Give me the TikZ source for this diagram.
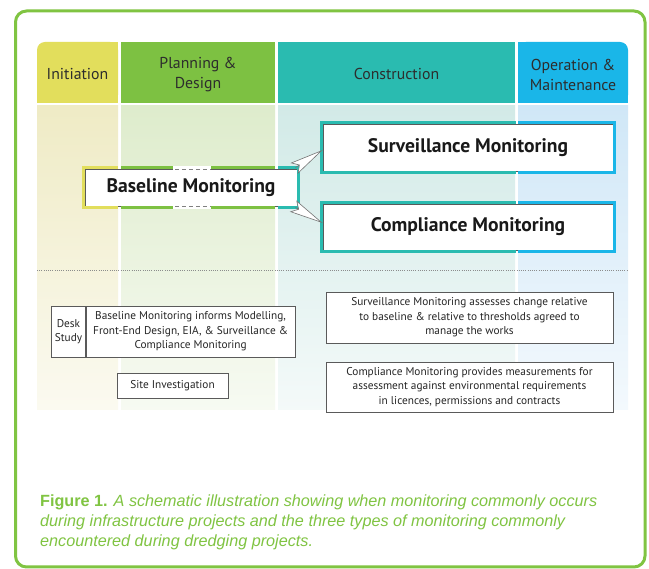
\documentclass[tikz,border=0pt]{standalone}
\usepackage{fontspec}
\setmainfont{PT Sans}
\newfontfamily\capfont{Liberation Sans}
\usetikzlibrary{arrows.meta,calc}
\definecolor{frameg}{RGB}{128,196,66}
\definecolor{cinit}{RGB}{226,222,92}
\definecolor{cplan}{RGB}{125,193,66}
\definecolor{ccons}{RGB}{42,187,176}
\definecolor{cops}{RGB}{26,182,232}
\definecolor{pinit}{RGB}{239,235,197}
\definecolor{pplan}{RGB}{222,236,204}
\definecolor{pcons}{RGB}{210,234,231}
\definecolor{pops}{RGB}{208,231,247}
\definecolor{htext}{RGB}{45,45,45}
\definecolor{bordg}{RGB}{90,90,90}
\tikzset{
  hdr/.style={text=htext, font=\fontsize{15.8}{20}\selectfont, align=center},
  bigbox/.style={draw=bordg, line width=0.8pt, fill=white, font=\bfseries\fontsize{19.6}{22}\selectfont, text=black!90, inner sep=0pt},
  smallbox/.style={draw=bordg, line width=0.6pt, fill=white, font=\fontsize{11.3}{14.5}\selectfont, text=black!85, align=center, inner sep=0pt},
  wedge/.style={draw=black!55, line width=0.6pt, -{Stealth[open, fill=white, length=34pt, width=13pt, inset=6pt]}},
  edge3/.style={line width=3pt}
}
\begin{document}
\begin{tikzpicture}[x=1pt,y=-1pt]
\useasboundingbox (0,0) rectangle (649,569);
\fill[white] (0,0) rectangle (649,569);
% frame
\draw[frameg, line width=3pt, rounded corners=11pt] (15.5,11) rectangle (645,567);
% pale columns
\shade[top color=pinit, bottom color=pinit!25!white] (37,106) rectangle (118,410);
\shade[top color=pplan, bottom color=pplan!25!white] (121,106) rectangle (275,410);
\shade[top color=pcons, bottom color=pcons!25!white] (278,106) rectangle (515,410);
\shade[top color=pops, bottom color=pops!25!white] (518,106) rectangle (628,410);
% headers
\fill[cinit, rounded corners=8pt] (37,42) rectangle (118,103);
\fill[cinit] (60,42) rectangle (118,103);
\fill[cinit] (37,70) rectangle (118,103);
\fill[cplan] (121,42) rectangle (275,103);
\fill[ccons] (278,42) rectangle (515,103);
\fill[cops, rounded corners=8pt] (518,42) rectangle (628,103);
\fill[cops] (518,42) rectangle (600,103);
\fill[cops] (518,70) rectangle (628,103);
\node[hdr] (init) at (77.5,74) {Initiation};
\node[hdr] (plan) at (198,74.5) {Planning \&\\Design};
\node[hdr] (cons) at (396.5,74) {Construction};
\node[hdr] (ops) at (573,74.5) {Operation \&\\Maintenance};
% dotted separator
\draw[black!45, line width=0.7pt, dash pattern=on 1pt off 1.2pt] (37,270) -- (628,270);
% baseline box
\node[bigbox, minimum width=212pt, minimum height=37pt] (bm) at (191,187.5) {Baseline Monitoring};
\foreach \ya in {167.5,207.5}{
  \draw[cinit, edge3] (83.5,\ya) -- (118,\ya);
  \draw[cplan, edge3] (121,\ya) -- (173,\ya);
  \draw[cplan, edge3] (211,\ya) -- (275,\ya);
  \draw[ccons, edge3] (278,\ya) -- (298.5,\ya);
}
\draw[cinit, edge3] (83.5,166) -- (83.5,209);
\draw[ccons, edge3] (298.5,166) -- (298.5,209);
\fill[white] (173,166) rectangle (211,170);
\fill[white] (173,205) rectangle (211,209);
\draw[black!50, line width=0.8pt, dash pattern=on 4pt off 3pt] (175,169) -- (211,169);
\draw[black!50, line width=0.8pt, dash pattern=on 4pt off 3pt] (175,206) -- (211,206);
% surveillance & compliance boxes
\node[bigbox, minimum width=290pt, minimum height=47pt] (sm) at (468,147.5) {Surveillance Monitoring};
\node[bigbox, minimum width=290pt, minimum height=46pt] (cm) at (468,227) {Compliance Monitoring};
\foreach \ya/\yb in {124/171,204/250}{
  \draw[ccons, edge3] (321.5,\ya-1.5) -- (516,\ya-1.5);
  \draw[cops, edge3] (518,\ya-1.5) -- (614.5,\ya-1.5);
  \draw[ccons, edge3] (321.5,\yb+1.5) -- (516,\yb+1.5);
  \draw[cops, edge3] (518,\yb+1.5) -- (614.5,\yb+1.5);
  \draw[ccons, edge3] (321.5,\ya-3) -- (321.5,\yb+3);
  \draw[cops, edge3] (614.5,\ya-3) -- (614.5,\yb+3);
}
% wedge arrows
\draw[wedge] ($(bm.north east)+(-2,-1)$) -- ($(sm.west)+(0,2.5)$);
\draw[wedge] ($(bm.south east)+(-2,1)$) -- ($(cm.west)+(0,-4)$);
% lower boxes
\node[smallbox, minimum width=34pt, minimum height=51pt] (desk) at (68.5,331.5) {Desk\\Study};
\node[smallbox, minimum width=209pt, minimum height=51pt, anchor=west] (inform) at (desk.east) {Baseline Monitoring informs Modelling,\\Front-End Design, EIA, \& Surveillance \&\\Compliance Monitoring};
\node[smallbox, minimum width=111pt, minimum height=25pt] (site) at (172.5,385.5) {Site Investigation};
\node[smallbox, minimum width=287pt, minimum height=51pt] (stext) at (469.5,317.5) {Surveillance Monitoring assesses change relative\\to baseline \& relative to thresholds agreed to\\manage the works};
\node[smallbox, minimum width=287pt, minimum height=50pt] (ctext) at (469.5,387) {Compliance Monitoring provides measurements for\\assessment against environmental requirements\\in licences, permissions and contracts};
% caption
\node[anchor=north west, inner sep=0pt, align=left, text=frameg, font=\capfont\fontsize{16.2}{19.6}\selectfont] (cap) at (40,495) {\textbf{Figure 1.} \textit{A schematic illustration showing when monitoring commonly occurs}\\\textit{during infrastructure projects and the three types of monitoring commonly}\\\textit{encountered during dredging projects.}};
\end{tikzpicture}
\end{document}
